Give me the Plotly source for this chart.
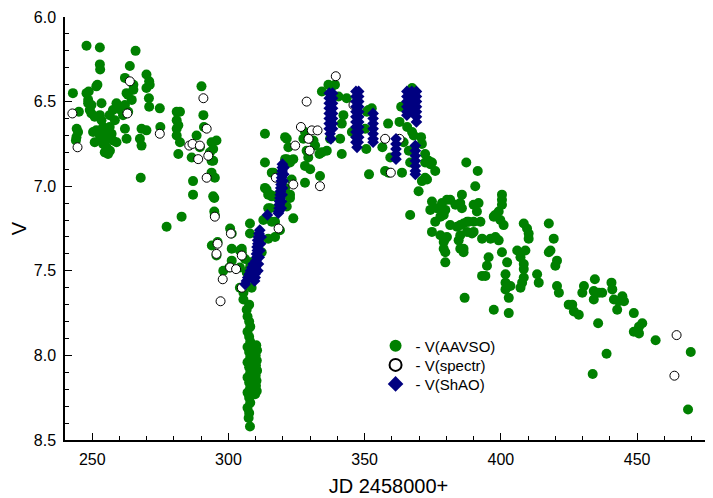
import plotly.graph_objects as go

# V(AAVSO) points: (JD - 2458000, V)
aavso = [
    (242.9,6.45),(245.1,6.56),(244.3,6.66),(244.8,6.68),(244.2,6.71),(244.0,6.73),
    (247.9,6.17),(252.8,6.18),(248.7,6.44),(247.9,6.45),(248.5,6.49),
    (251.9,6.40),(251.5,6.41),(252.8,6.28),(252.9,6.31),
    (248.5,6.51),(249.7,6.52),(249.1,6.55),(249.7,6.57),(250.9,6.59),(251.5,6.67),
    (250.3,6.68),(252.8,6.70),(250.9,6.74),
    (253.4,6.51),(252.8,6.58),(253.4,6.61),(254.0,6.65),(254.6,6.68),(253.4,6.72),
    (254.0,6.75),(255.2,6.77),(255.8,6.81),(254.6,6.80),
    (258.9,6.51),(257.6,6.55),(256.4,6.58),(258.3,6.61),(256.4,6.65),(257.1,6.69),
    (255.2,6.72),(257.6,6.73),(256.5,6.79),(258.9,6.74),
    (260.5,6.55),(261.3,6.58),(262.0,6.52),(263.2,6.56),(262.6,6.45),(262.0,6.36),
    (263.8,6.29),(265.1,6.40),(265.1,6.43),(264.5,6.49),(263.1,6.46),
    (262.0,6.66),(262.6,6.72),(265.9,6.20),
    (268.1,6.66),(269.9,6.67),(267.5,6.72),(268.1,6.76),(267.8,6.95),
    (269.9,6.34),(270.9,6.38),(269.9,6.42),(270.8,6.48),(270.9,6.53),(271.1,6.40),
    (274.8,6.54),(275.0,6.65),(277.3,7.24),
    (281.0,6.56),(282.2,6.56),(281.6,6.64),(281.0,6.70),(282.2,6.74),(281.6,6.81),
    (281.0,6.61),(281.0,6.66),(282.8,7.18),
    (286.5,6.83),(287.0,6.97),(287.0,7.05),
    (288.3,6.70),(289.5,6.77),(290.1,6.41),(290.8,6.58),(291.0,6.65),(293.8,6.74),
    (293.2,6.80),(293.8,6.85),(295.6,6.73),(294.4,6.78),(294.4,6.85),(293.8,6.92),
    (295.0,6.95),(294.4,7.06),(294.8,7.07),(294.8,7.15),(295.0,7.17),
    (293.9,7.35),(296.0,7.33),(295.6,7.41),(300.6,7.25),(301.2,7.28),(301.2,7.37),
    (304.2,7.38),(304.9,7.39),(301.2,7.44),(300.3,7.48),(298.1,7.50),(307.9,7.22),
    (307.9,7.28),(307.9,7.45),(307.9,7.48),(306.7,7.51),(304.9,7.37),(306.1,7.43),
    (304.2,7.48),(307.3,7.52),(308.5,7.60),(304.2,7.60),(305.5,7.63),(305.5,7.67),
    (306.7,7.73),(307.6,7.70),(307.0,7.77),(307.6,7.80),(308.0,7.83),(307.0,7.86),
    (307.6,7.89),(308.0,7.92),(307.0,7.95),(307.6,7.98),(308.0,8.01),(307.0,8.04),
    (307.6,8.07),(308.0,8.10),(307.0,8.13),(307.6,8.16),(308.0,8.19),(307.0,8.22),
    (307.6,8.25),(308.0,8.28),(307.0,8.31),(307.6,8.34),(307.4,8.37),(307.9,8.42),
    (310.2,7.94),(310.5,7.97),(310.0,8.00),(310.4,8.03),(310.1,8.06),(310.5,8.09),
    (310.0,8.12),(310.3,8.15),(310.1,8.18),(310.4,8.21),(309.8,8.23),
    (309.0,8.05),(309.1,8.15),(308.9,7.98),
    (313.4,6.69),(313.4,6.86),(313.4,7.01),(314.0,7.02),(314.6,7.05),(315.3,7.05),
    (315.9,7.06),(317.1,7.06),(316.5,6.92),(315.9,6.92),(314.6,7.13),(315.3,7.13),
    (317.7,7.13),(321.4,7.12),(312.8,7.20),(315.9,7.21),(317.1,7.21),(318.9,7.26),
    (311.6,7.31),(314.6,7.31),(317.1,7.30),(312.2,7.39),
    (320.8,6.71),(321.4,6.72),(322.0,6.77),(321.4,6.84),(320.8,6.84),(322.6,6.86),
    (323.8,6.84),(323.2,6.96),(320.8,7.01),(322.6,7.05),(322.6,7.07),(323.8,7.19),
    (328.1,6.68),(327.5,6.72),(331.2,6.73),(331.8,6.76),(328.7,6.79),(329.3,6.83),
    (328.1,6.88),(330.0,6.90),(333.6,6.94),(328.1,6.98),
    (334.3,6.44),(336.7,6.40),(337.9,6.41),(339.1,6.40),(340.4,6.47),(343.4,6.48),
    (342.2,6.58),(341.6,6.63),(345.3,6.68),(341.0,6.72),(341.6,6.81),(337.3,6.72),
    (336.1,6.79),(334.3,6.80),(333.4,6.81),
    (350.2,6.66),(350.6,6.78),(351.6,6.93),
    (351.4,6.55),(350.8,6.56),(352.6,6.54),(356.5,6.77),(357.5,6.91),(358.8,6.92),
    (359.4,6.83),(358.6,6.63),(362.8,6.62),(363.4,6.53),(367.4,6.42),(365.6,6.65),
    (367.4,6.68),(368.0,6.70),(370.7,6.71),(364.3,6.74),(366.2,6.79),(366.7,6.86),
    (368.0,6.78),(371.0,6.75),(372.2,6.81),(373.5,6.85),(374.1,6.87),(375.9,6.91),
    (372.2,6.95),(371.0,6.97),(369.8,7.03),(372.9,6.96),(374.7,6.86),(372.2,6.86),
    (363.7,6.92),(366.7,7.17),
    (387.3,6.86),(391.5,6.91),(390.6,7.00),(385.7,7.05),(385.1,7.10),(383.3,7.11),
    (400.4,7.05),(400.4,7.08),(400.4,7.11),(397.9,7.17),(399.2,7.15),(397.4,7.18),
    (399.8,7.20),(401.0,7.23),
    (374.7,7.09),(378.4,7.10),(381.4,7.08),(374.1,7.14),(376.5,7.13),(379.6,7.14),
    (377.8,7.18),(375.9,7.21),(381.4,7.23),(385.1,7.23),(387.6,7.21),(374.7,7.27),
    (377.8,7.29),(380.2,7.30),(385.1,7.29),(387.6,7.27),(379.0,7.37),(385.1,7.37),
    (380.2,7.08),(378.4,7.13),(379.0,7.17),(385.7,7.13),(390.0,7.11),(391.8,7.10),
    (391.2,7.15),(383.9,7.24),(386.3,7.22),(388.2,7.21),(390.0,7.21),(392.5,7.21),
    (389.4,7.28),(390.0,7.27),(393.1,7.31),(396.2,7.31),(398.0,7.30),(399.2,7.32),
    (379.6,7.31),(379.0,7.33),(384.5,7.32),(386.3,7.37),(386.3,7.39),(379.6,7.39),
    (379.6,7.45),(400.4,7.39),(402.3,7.45),
    (408.4,7.22),(409.6,7.25),(410.2,7.28),(410.2,7.31),(417.6,7.22),(419.4,7.31),
    (418.2,7.38),(417.6,7.39),(420.6,7.44),(420.0,7.47),
    (406.0,7.38),(409.0,7.38),(407.2,7.42),(408.4,7.46),(408.4,7.49),(408.4,7.54),
    (407.2,7.60),(407.8,7.57),
    (395.5,7.42),(394.9,7.47),(394.3,7.53),(393.1,7.53),
    (401.7,7.52),(401.7,7.57),(403.5,7.59),(401.7,7.61),(402.9,7.66),(402.9,7.75),
    (397.4,7.73),(386.7,7.66),
    (413.3,7.52),(413.9,7.57),(420.6,7.59),(421.3,7.63),(424.9,7.70),
    (430.5,7.59),(429.9,7.63),(434.5,7.55),(440.6,7.57),(434.1,7.62),(436.0,7.63),
    (437.2,7.63),(434.1,7.67),(440.9,7.61),(441.5,7.67),(443.3,7.68),(444.6,7.65),
    (445.2,7.68),(442.7,7.73),(426.2,7.70),(426.8,7.74),(428.6,7.76),
    (448.8,7.75),(451.9,7.81),(450.7,7.83),(448.8,7.86),(450.7,7.87),(456.8,7.91),
    (435.7,7.81),(438.8,7.99),(433.7,8.11),(469.7,7.98),(468.7,8.32),
]

# V(spectr) points
spectr = [
    (242.7,6.57),(244.6,6.77),(263.8,6.38),(262.9,6.57),(274.8,6.69),(290.8,6.48),
    (292.0,6.66),(285.6,6.76),(286.8,6.75),(289.5,6.76),(288.9,6.84),(292.6,6.82),
    (292.0,6.95),(295.0,7.18),(300.9,7.28),(296.0,7.34),(295.6,7.40),(304.9,7.41),
    (300.6,7.48),(302.8,7.49),(297.9,7.55),(297.1,7.68),(304.9,7.60),
    (318.4,7.25),(317.4,6.95),(323.8,6.99),(324.5,6.76),(326.6,6.65),(328.7,6.50),
    (330.6,6.67),(332.7,6.67),(329.4,6.72),(329.8,6.79),(333.6,7.00),(339.4,6.35),
    (345.9,6.52),(357.5,6.72),(362.8,6.72),(359.6,6.92),(464.5,7.88),(463.7,8.12),
]

# V(ShAO) points
shao = [
    (306.1,7.58),(306.6,7.56),(307.1,7.54),(307.6,7.52),(308.1,7.50),(308.6,7.48),(309.1,7.46),
    (309.6,7.56),(309.8,7.54),(309.7,7.52),(310.0,7.50),(309.9,7.48),(310.2,7.46),
    (310.1,7.44),(310.4,7.42),(310.3,7.40),(310.6,7.38),(310.5,7.36),(310.8,7.34),
    (310.7,7.32),(311.0,7.30),(311.2,7.28),(311.5,7.26),
    (310.8,7.50),(311.0,7.46),(311.3,7.42),(311.5,7.38),(311.8,7.34),(312.0,7.30),
    (314.3,7.17),(318.3,7.16),
    (318.5,7.15),(318.6,7.13),(318.7,7.11),(318.8,7.09),(318.9,7.07),(319.0,7.05),
    (319.1,7.03),(319.2,7.01),(319.3,6.99),(319.4,6.97),(319.5,6.95),(319.6,6.93),
    (319.7,6.91),(319.8,6.89),(319.8,6.87),
    (319.4,7.13),(319.5,7.09),(319.7,7.05),(319.9,7.01),(320.1,6.97),(320.3,6.93),(320.4,6.89),
    (337.0,6.45),(337.0,6.48),(337.0,6.51),(337.0,6.54),(337.0,6.57),(337.0,6.60),
    (337.0,6.63),(337.0,6.66),(337.3,6.69),(337.6,6.72),
    (338.2,6.45),(338.2,6.48),(338.2,6.51),(338.2,6.54),(338.2,6.57),(338.2,6.60),
    (338.2,6.63),(338.2,6.66),
    (346.8,6.44),(346.8,6.47),(346.8,6.50),(346.8,6.53),(346.8,6.56),(346.8,6.59),
    (346.8,6.62),(346.8,6.65),(346.8,6.68),(346.8,6.71),(346.8,6.74),(347.2,6.77),
    (347.8,6.44),(347.8,6.47),(347.8,6.50),(347.8,6.53),(347.8,6.56),(347.8,6.59),
    (347.8,6.62),(347.8,6.65),(347.8,6.68),(347.8,6.71),(347.6,6.74),
    (353.1,6.57),(353.1,6.60),(353.1,6.63),(353.1,6.66),(353.1,6.69),(353.1,6.72),(353.1,6.74),
    (361.5,6.72),(361.5,6.75),(361.5,6.78),(361.5,6.81),(361.5,6.84),
    (365.5,6.44),(365.5,6.47),(365.5,6.50),(365.5,6.53),(365.5,6.56),(365.5,6.58),
    (367.3,6.44),(367.3,6.47),(367.3,6.50),(367.3,6.53),(367.3,6.56),
    (369.0,6.44),(369.0,6.47),(369.0,6.50),(369.0,6.53),(369.0,6.56),(369.0,6.59),(369.0,6.62),
    (368.6,6.76),(368.6,6.79),(368.6,6.82),(368.6,6.85),(368.6,6.88),(368.6,6.91),(368.6,6.93),
]

aavso_jd, aavso_v = zip(*aavso)
spectr_jd, spectr_v = zip(*spectr)
shao_jd, shao_v = zip(*shao)

FONT = "Liberation Sans, Arial, sans-serif"

fig = go.Figure()
fig.add_trace(go.Scatter(
    x=aavso_jd, y=aavso_v, mode="markers", name="- V(AAVSO)", legend="legend",
    marker=dict(symbol="circle", size=10, color="#008000", line=dict(width=0)),
))
fig.add_trace(go.Scatter(
    x=spectr_jd, y=spectr_v, mode="markers", name="- V(spectr)", legend="legend2",
    marker=dict(symbol="circle", size=9, color="white", line=dict(width=1, color="black")),
))
fig.add_trace(go.Scatter(
    x=shao_jd, y=shao_v, mode="markers", name="- V(ShAO)", legend="legend3",
    marker=dict(symbol="diamond", size=9, color="#000080", line=dict(width=0)),
))

axis_common = dict(
    showgrid=False, zeroline=False, showline=True, linecolor="black", linewidth=1.5,
    ticks="inside", ticklen=7, tickwidth=1.2, tickcolor="black",
    tickfont=dict(family=FONT, size=16, color="black"),
    automargin=False, ticklabeloverflow="allow",
)

legend_common = dict(x=0.48, xanchor="left", yanchor="middle",
                     bgcolor="rgba(0,0,0,0)", borderwidth=0,
                     font=dict(family=FONT, size=15, color="black"),
                     itemsizing="constant")

# page body has an 8px margin, so the figure is sized to fit the 713x498 window
fig.update_layout(
    width=705, height=490,
    margin=dict(l=57, r=1, t=9, b=58),
    paper_bgcolor="white", plot_bgcolor="white",
    font=dict(family=FONT, color="black"),
    showlegend=True,
    legend=dict(y=0.222, **legend_common),
    legend2=dict(y=0.177, **legend_common),
    legend3=dict(y=0.132, **legend_common),
    xaxis=dict(
        range=[240, 477.5], tickvals=[250, 300, 350, 400, 450],
        minor=dict(dtick=10, ticks="inside", ticklen=4, tickcolor="black"),
        title=dict(text="JD 2458000+", font=dict(family=FONT, size=20), standoff=12),
        ticklabelstandoff=4,
        **axis_common,
    ),
    yaxis=dict(
        range=[8.5, 6.0], tickvals=[6.0, 6.5, 7.0, 7.5, 8.0, 8.5], tickformat=".1f",
        minor=dict(dtick=0.1, ticks="inside", ticklen=4, tickcolor="black"),
        title=dict(text="V", font=dict(family=FONT, size=20), standoff=12),
        ticklabelstandoff=4,
        **axis_common,
    ),
)

fig.write_html("out.html")
